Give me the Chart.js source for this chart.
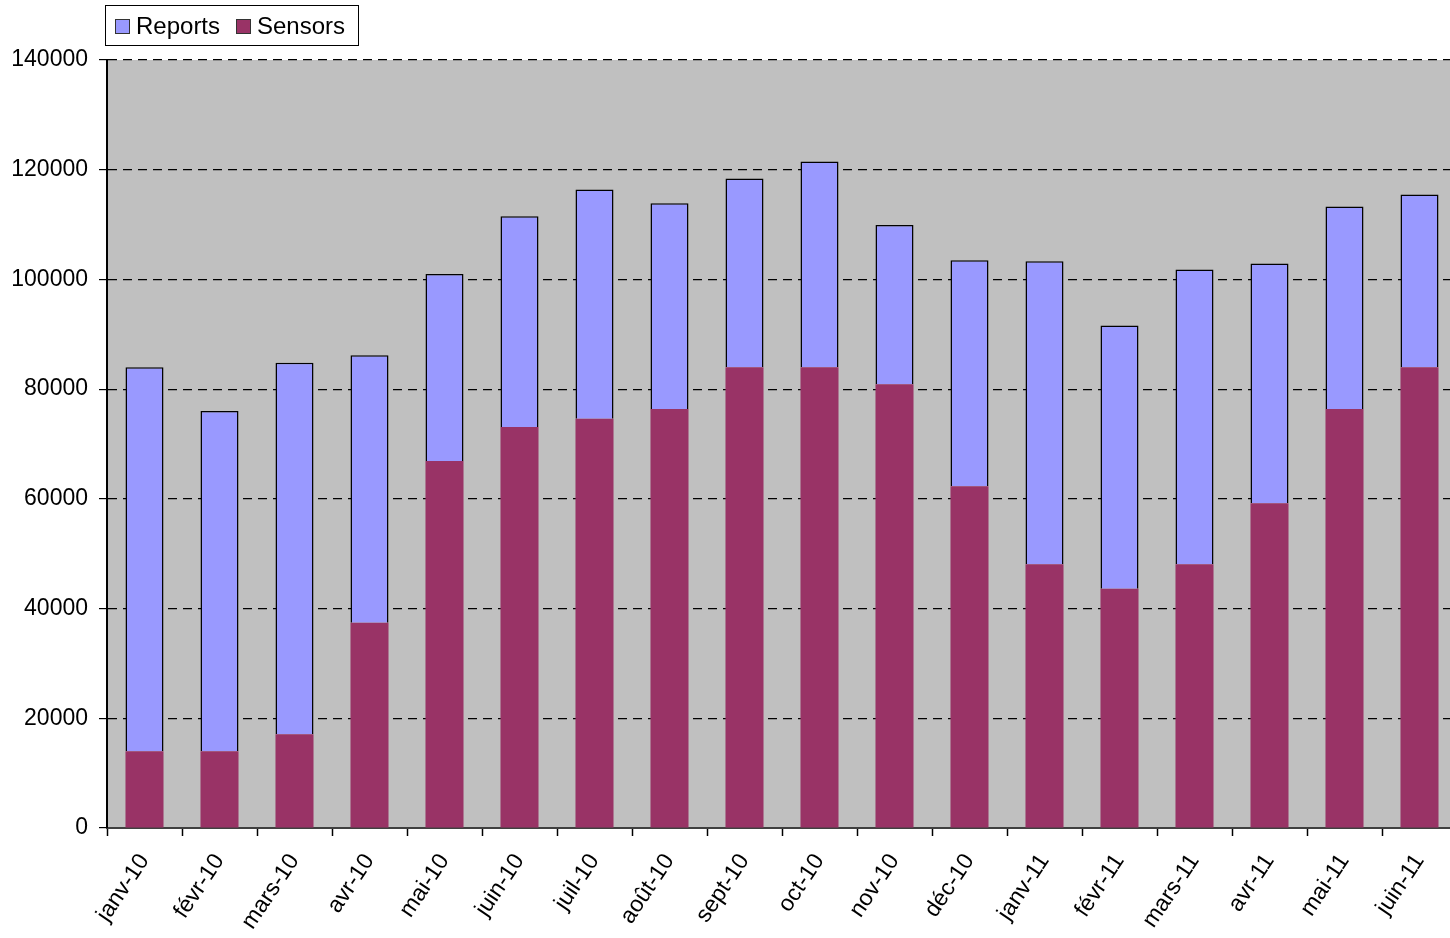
<!DOCTYPE html>
<html>
<head>
<meta charset="utf-8">
<title>Reports / Sensors</title>
<script src="https://cdn.jsdelivr.net/npm/chart.js@4/dist/chart.umd.min.js"></script>
<style>
    html, body {
        margin: 0;
        padding: 0;
        background: #fff;
        overflow: hidden;
    }
    #wrap {
        width: 1470px;
        height: 938px;
    }
</style>
</head>
<body>
<div id="wrap">
    <canvas id="monthly" width="1470" height="938"></canvas>
</div>
<script>
const months = ['janv-10', 'févr-10', 'mars-10', 'avr-10', 'mai-10', 'juin-10', 'juil-10', 'août-10', 'sept-10',
    'oct-10', 'nov-10', 'déc-10', 'janv-11', 'févr-11', 'mars-11', 'avr-11', 'mai-11', 'juin-11'];

const sensors = [14000, 14000, 17100, 37400, 66900, 73100, 74600, 76400, 84000,
    84000, 80900, 62300, 48100, 43600, 48100, 59200, 76400, 84000];

const reports = [70000, 62000, 67700, 48800, 34100, 38400, 41800, 37500, 34400,
    37500, 29000, 41200, 55200, 48000, 53700, 43700, 36900, 31500];

const yTicks = [0, 20000, 40000, 60000, 80000, 100000, 120000, 140000];

const FONT = "'Liberation Sans', Arial, sans-serif";

Chart.defaults.font.family = FONT;
Chart.defaults.color = '#000';
Chart.defaults.responsive = false;
Chart.defaults.animation = false;

// grey plot background behind grid and bars
const plotBackground = {
    id: 'plotBackground',
    beforeDraw: function (chart) {
        const a = chart.chartArea;
        const ctx = chart.ctx;
        ctx.save();
        ctx.fillStyle = '#c0c0c0';
        ctx.fillRect(a.left, a.top, a.right - a.left, a.bottom - a.top);
        ctx.restore();
    }
};

// boxed legend in the top left corner, Reports first
const boxLegend = {
    id: 'boxLegend',
    afterDraw: function (chart) {
        const ctx = chart.ctx;
        ctx.save();
        ctx.fillStyle = '#fff';
        ctx.strokeStyle = '#000';
        ctx.lineWidth = 1;
        ctx.fillRect(105.5, 5.5, 253, 40);
        ctx.strokeRect(105.5, 5.5, 253, 40);

        const items = [
            {text: 'Reports', color: '#9999ff', x: 115},
            {text: 'Sensors', color: '#993366', x: 236}
        ];
        ctx.font = '24px ' + FONT;
        ctx.textBaseline = 'alphabetic';
        ctx.textAlign = 'left';
        items.forEach(function (it) {
            ctx.fillStyle = it.color;
            ctx.fillRect(it.x + 0.5, 19.5, 14, 14);
            ctx.strokeStyle = '#333';
            ctx.strokeRect(it.x + 0.5, 19.5, 14, 14);
            ctx.fillStyle = '#000';
            ctx.fillText(it.text, it.x + 21, 34);
        });
        ctx.restore();
    }
};

const ctx = document.getElementById('monthly').getContext('2d');

new Chart(ctx, {
    type: 'bar',
    data: {
        labels: months,
        datasets: [{
            label: 'Sensors',
            data: sensors,
            backgroundColor: '#993366',
            borderWidth: 0
        }, {
            label: 'Reports',
            data: reports,
            backgroundColor: '#9999ff',
            borderColor: '#000',
            borderWidth: 1.5,
            borderSkipped: 'bottom'
        }]
    },
    options: {
        layout: {
            padding: {left: 0, top: 60, right: 13, bottom: 0}
        },
        datasets: {
            bar: {
                categoryPercentage: 1,
                barPercentage: 0.507
            }
        },
        plugins: {
            legend: {display: false},
            tooltip: {enabled: false}
        },
        scales: {
            x: {
                stacked: true,
                offset: true,
                afterFit: function (scale) {
                    scale.height = 110;
                },
                grid: {
                    offset: true,
                    drawOnChartArea: false,
                    drawTicks: true,
                    tickLength: 8,
                    tickColor: '#000',
                    tickWidth: 1.5
                },
                border: {
                    display: true,
                    color: '#404040',
                    width: 2
                },
                ticks: {
                    autoSkip: false,
                    minRotation: 56,
                    maxRotation: 56,
                    padding: 13,
                    color: '#000',
                    font: {size: 23}
                }
            },
            y: {
                stacked: true,
                min: 0,
                max: 140000,
                afterFit: function (scale) {
                    scale.width = 107;
                },
                afterBuildTicks: function (scale) {
                    scale.ticks = yTicks.map(function (v) {
                        return {value: v};
                    });
                },
                grid: {
                    color: function (c) {
                        return c.tick && c.tick.value === 0 ? 'rgba(0,0,0,0)' : '#000';
                    },
                    lineWidth: 1.2,
                    drawTicks: true,
                    tickLength: 8,
                    tickColor: '#000',
                    tickWidth: 1.2,
                    tickBorderDash: []
                },
                border: {
                    display: true,
                    color: '#000',
                    width: 2,
                    dash: [9, 6]
                },
                ticks: {
                    padding: 11,
                    color: '#000',
                    font: {size: 23},
                    callback: function (v) {
                        return String(v);
                    }
                }
            }
        }
    },
    plugins: [plotBackground, boxLegend]
});
</script>
</body>
</html>
